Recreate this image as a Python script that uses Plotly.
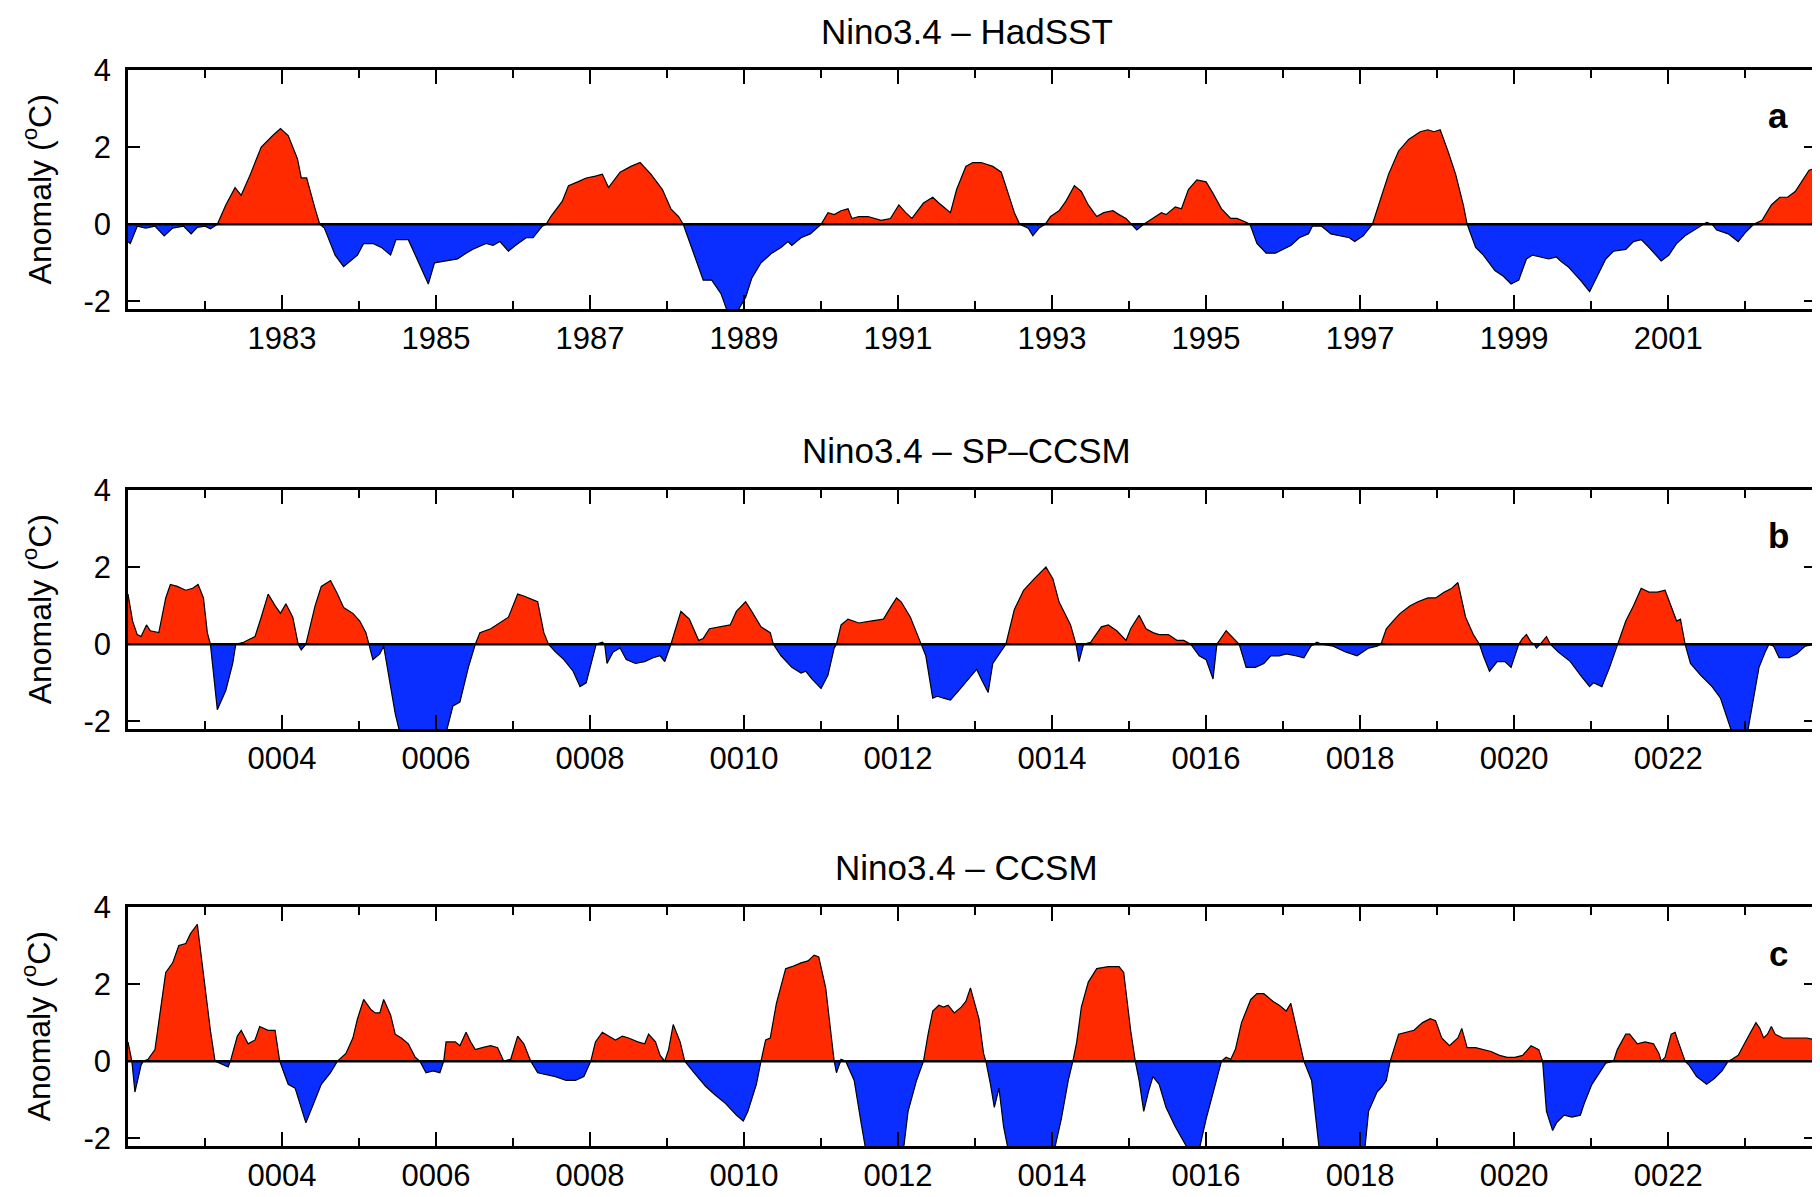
import plotly.graph_objects as go
from plotly.subplots import make_subplots

# Nino3.4 anomalies (degC)
years_a = [1981.00, 1981.03, 1981.12, 1981.23, 1981.35, 1981.47, 1981.58, 1981.72, 1981.82, 1981.90,
           1982.00, 1982.07, 1982.16, 1982.27, 1982.39, 1982.47, 1982.59, 1982.73, 1982.88, 1982.98,
           1983.08, 1983.20, 1983.25, 1983.32, 1983.43, 1983.49, 1983.55, 1983.69, 1983.80, 1983.98,
           1984.06, 1984.18, 1984.29, 1984.41, 1984.48, 1984.64, 1984.73, 1984.82, 1984.90, 1984.98,
           1985.13, 1985.28, 1985.39, 1985.48, 1985.65, 1985.74, 1985.83, 1985.94, 1986.03, 1986.17,
           1986.26, 1986.38, 1986.43, 1986.49, 1986.64, 1986.72, 1986.84, 1986.95, 1987.07, 1987.16,
           1987.24, 1987.39, 1987.53, 1987.65, 1987.79, 1987.94, 1988.05, 1988.15, 1988.21, 1988.35,
           1988.47, 1988.58, 1988.70, 1988.79, 1988.90, 1989.02, 1989.10, 1989.22, 1989.36, 1989.48,
           1989.57, 1989.62, 1989.74, 1989.86, 1990.00, 1990.09, 1990.17, 1990.26, 1990.35, 1990.40,
           1990.49, 1990.61, 1990.78, 1990.90, 1991.01, 1991.10, 1991.18, 1991.33, 1991.45, 1991.53,
           1991.68, 1991.76, 1991.88, 1991.97, 1992.08, 1992.23, 1992.34, 1992.43, 1992.51, 1992.58,
           1992.69, 1992.75, 1992.83, 1992.91, 1992.98, 1993.09, 1993.18, 1993.29, 1993.38, 1993.47,
           1993.58, 1993.67, 1993.79, 1993.87, 1993.96, 1994.03, 1994.10, 1994.19, 1994.31, 1994.42,
           1994.48, 1994.60, 1994.68, 1994.77, 1994.88, 1995.00, 1995.09, 1995.20, 1995.32, 1995.40,
           1995.52, 1995.57, 1995.66, 1995.78, 1995.90, 1996.01, 1996.10, 1996.21, 1996.33, 1996.38,
           1996.50, 1996.62, 1996.86, 1996.93, 1997.04, 1997.16, 1997.27, 1997.37, 1997.50, 1997.63,
           1997.78, 1997.88, 1997.96, 1998.04, 1998.14, 1998.24, 1998.34, 1998.39, 1998.50, 1998.60,
           1998.75, 1998.86, 1998.96, 1999.06, 1999.16, 1999.24, 1999.34, 1999.45, 1999.55, 1999.60,
           1999.70, 1999.86, 1999.98, 2000.09, 2000.19, 2000.29, 2000.45, 2000.55, 2000.65, 2000.75,
           2000.91, 2001.01, 2001.11, 2001.22, 2001.37, 2001.45, 2001.50, 2001.57, 2001.63, 2001.78,
           2001.91, 2002.01, 2002.11, 2002.22, 2002.34, 2002.45, 2002.55, 2002.65, 2002.75, 2002.83,
           2002.92]
anom_a = [-0.45, -0.5, -0.05, -0.1, -0.05, -0.3, -0.1, -0.05, -0.25, -0.08,
          -0.05, -0.12, 0.0, 0.5, 0.95, 0.75, 1.3, 2.0, 2.3, 2.48,
          2.3, 1.7, 1.2, 1.2, 0.4, 0.0, -0.1, -0.8, -1.1, -0.8,
          -0.5, -0.5, -0.6, -0.8, -0.4, -0.4, -0.8, -1.2, -1.55, -1.0,
          -0.95, -0.9, -0.75, -0.65, -0.5, -0.55, -0.45, -0.7, -0.55, -0.35,
          -0.35, -0.05, 0.0, 0.2, 0.6, 1.0, 1.1, 1.2, 1.25, 1.3,
          0.95, 1.35, 1.5, 1.6, 1.3, 0.9, 0.4, 0.2, 0.0, -0.8,
          -1.45, -1.45, -1.8, -2.3, -2.3, -1.9, -1.4, -1.0, -0.75, -0.6,
          -0.45, -0.55, -0.35, -0.25, 0.0, 0.3, 0.25, 0.35, 0.4, 0.15,
          0.2, 0.2, 0.1, 0.15, 0.5, 0.3, 0.15, 0.55, 0.7, 0.55,
          0.3, 0.9, 1.5, 1.6, 1.6, 1.5, 1.35, 0.8, 0.3, 0.0,
          -0.1, -0.3, -0.1, 0.0, 0.2, 0.35, 0.6, 1.0, 0.85, 0.5,
          0.2, 0.3, 0.35, 0.25, 0.15, 0.0, -0.15, 0.0, 0.15, 0.3,
          0.25, 0.45, 0.4, 0.9, 1.15, 1.1, 0.8, 0.4, 0.15, 0.15,
          0.05, 0.0, -0.5, -0.75, -0.75, -0.65, -0.55, -0.35, -0.25, -0.05,
          -0.05, -0.25, -0.35, -0.45, -0.3, 0.0, 0.7, 1.3, 1.9, 2.2,
          2.4, 2.45, 2.4, 2.45, 1.9, 1.3, 0.5, 0.0, -0.6, -0.8,
          -1.2, -1.35, -1.55, -1.45, -0.9, -0.8, -0.85, -0.9, -0.85, -0.95,
          -1.1, -1.45, -1.75, -1.3, -0.9, -0.7, -0.65, -0.45, -0.4, -0.6,
          -0.95, -0.8, -0.5, -0.3, -0.1, 0.0, 0.05, 0.0, -0.15, -0.25,
          -0.45, -0.2, 0.0, 0.1, 0.5, 0.7, 0.7, 0.85, 1.15, 1.4,
          1.45]

years_b = [2.00, 2.06, 2.12, 2.17, 2.24, 2.29, 2.40, 2.49, 2.55, 2.64,
           2.75, 2.84, 2.91, 2.98, 3.03, 3.07, 3.16, 3.27, 3.36, 3.40,
           3.50, 3.65, 3.73, 3.82, 3.91, 3.98, 4.05, 4.14, 4.21, 4.25,
           4.31, 4.43, 4.51, 4.63, 4.72, 4.80, 4.92, 5.01, 5.09, 5.13,
           5.18, 5.27, 5.32, 5.47, 5.53, 6.13, 6.22, 6.31, 6.42, 6.51,
           6.57, 6.71, 6.86, 6.94, 7.06, 7.14, 7.26, 7.32, 7.40, 7.46,
           7.55, 7.66, 7.78, 7.87, 7.95, 8.04, 8.08, 8.16, 8.19, 8.22,
           8.30, 8.39, 8.47, 8.59, 8.71, 8.82, 8.91, 8.97, 9.05, 9.18,
           9.29, 9.41, 9.47, 9.55, 9.70, 9.82, 9.90, 10.02, 10.10, 10.22,
           10.34, 10.38, 10.48, 10.62, 10.74, 10.80, 10.88, 11.00, 11.09, 11.17,
           11.20, 11.26, 11.35, 11.49, 11.64, 11.81, 11.90, 11.98, 12.04, 12.16,
           12.24, 12.30, 12.36, 12.45, 12.51, 12.59, 12.68, 12.79, 12.91, 13.02,
           13.08, 13.17, 13.23, 13.31, 13.40, 13.51, 13.63, 13.77, 13.92, 14.01,
           14.09, 14.24, 14.31, 14.35, 14.41, 14.50, 14.55, 14.64, 14.73, 14.84,
           14.96, 15.02, 15.13, 15.22, 15.31, 15.39, 15.51, 15.62, 15.71, 15.80,
           15.91, 16.00, 16.09, 16.14, 16.26, 16.38, 16.43, 16.52, 16.64, 16.75,
           16.84, 16.95, 17.04, 17.16, 17.27, 17.36, 17.44, 17.50, 17.65, 17.81,
           17.96, 18.11, 18.22, 18.27, 18.34, 18.45, 18.52, 18.65, 18.75, 18.88,
           18.98, 19.09, 19.19, 19.27, 19.37, 19.47, 19.55, 19.60, 19.68, 19.78,
           19.88, 19.96, 20.04, 20.06, 20.11, 20.16, 20.22, 20.26, 20.29, 20.34,
           20.42, 20.47, 20.57, 20.73, 20.86, 20.98, 21.03, 21.14, 21.24, 21.34,
           21.45, 21.55, 21.65, 21.75, 21.86, 21.96, 22.06, 22.11, 22.16, 22.22,
           22.29, 22.42, 22.57, 22.68, 22.78, 22.83, 23.03, 23.11, 23.18, 23.26,
           23.31, 23.37, 23.44, 23.57, 23.67, 23.78, 23.92]
anom_b = [1.3, 0.6, 0.25, 0.2, 0.5, 0.35, 0.3, 1.2, 1.55, 1.5,
          1.4, 1.45, 1.55, 1.2, 0.3, 0.0, -1.7, -1.2, -0.5, 0.0,
          0.05, 0.2, 0.7, 1.3, 1.0, 0.8, 1.05, 0.7, 0.0, -0.15,
          0.0, 1.0, 1.5, 1.65, 1.3, 0.95, 0.8, 0.6, 0.3, 0.0,
          -0.4, -0.25, -0.05, -1.8, -2.3, -2.3, -1.6, -1.5, -0.6, 0.0,
          0.3, 0.4, 0.6, 0.7, 1.3, 1.25, 1.15, 1.1, 0.3, 0.0,
          -0.2, -0.4, -0.7, -1.1, -1.0, -0.3, 0.0, 0.05, 0.0, -0.5,
          -0.2, -0.1, -0.4, -0.5, -0.45, -0.35, -0.3, -0.45, 0.0, 0.85,
          0.65, 0.1, 0.15, 0.4, 0.45, 0.5, 0.85, 1.1, 0.85, 0.45,
          0.3, 0.0, -0.3, -0.6, -0.75, -0.7, -0.9, -1.15, -0.8, -0.1,
          0.0, 0.5, 0.65, 0.55, 0.6, 0.65, 0.95, 1.2, 1.1, 0.7,
          0.3, 0.0, -0.3, -1.4, -1.35, -1.4, -1.45, -1.2, -0.9, -0.65,
          -0.9, -1.25, -0.5, -0.25, 0.0, 0.9, 1.4, 1.7, 2.0, 1.7,
          1.1, 0.5, 0.0, -0.45, 0.0, 0.05, 0.2, 0.45, 0.5, 0.35,
          0.1, 0.4, 0.75, 0.4, 0.3, 0.25, 0.25, 0.1, 0.1, 0.0,
          -0.3, -0.4, -0.9, 0.0, 0.35, 0.1, 0.0, -0.6, -0.6, -0.5,
          -0.3, -0.3, -0.25, -0.3, -0.35, -0.05, 0.05, 0.0, -0.05, -0.2,
          -0.3, -0.1, -0.05, 0.0, 0.4, 0.65, 0.8, 1.0, 1.1, 1.2,
          1.2, 1.35, 1.45, 1.6, 0.7, 0.25, 0.0, -0.3, -0.7, -0.45,
          -0.45, -0.6, -0.1, 0.0, 0.15, 0.25, 0.05, 0.0, -0.1, 0.0,
          0.2, 0.0, -0.2, -0.45, -0.8, -1.1, -1.0, -1.1, -0.6, 0.0,
          0.6, 1.0, 1.45, 1.35, 1.35, 1.4, 0.9, 0.6, 0.65, 0.0,
          -0.5, -0.8, -1.1, -1.4, -2.0, -2.3, -2.3, -1.4, -0.6, -0.2,
          0.0, -0.05, -0.35, -0.35, -0.25, -0.05, 0.0]

years_c = [2.00, 2.05, 2.09, 2.17, 2.20, 2.26, 2.35, 2.43, 2.49, 2.58,
           2.66, 2.75, 2.81, 2.90, 2.98, 3.07, 3.13, 3.30, 3.33, 3.42,
           3.47, 3.56, 3.65, 3.71, 3.82, 3.91, 3.97, 4.02, 4.08, 4.17,
           4.31, 4.43, 4.51, 4.63, 4.72, 4.83, 4.92, 4.98, 5.06, 5.15,
           5.21, 5.27, 5.32, 5.41, 5.47, 5.55, 5.64, 5.73, 5.79, 5.87,
           5.96, 6.05, 6.10, 6.13, 6.25, 6.31, 6.39, 6.45, 6.51, 6.60,
           6.71, 6.80, 6.88, 6.97, 7.06, 7.14, 7.23, 7.32, 7.43, 7.55,
           7.69, 7.81, 7.92, 8.01, 8.07, 8.16, 8.24, 8.33, 8.42, 8.50,
           8.62, 8.71, 8.76, 8.85, 8.91, 8.97, 9.02, 9.08, 9.17, 9.23,
           9.35, 9.50, 9.61, 9.76, 9.90, 9.99, 10.05, 10.16, 10.22, 10.28,
           10.34, 10.42, 10.54, 10.62, 10.74, 10.83, 10.91, 10.97, 11.06, 11.12,
           11.17, 11.20, 11.26, 11.32, 11.43, 11.52, 11.58, 12.07, 12.13, 12.24,
           12.33, 12.39, 12.45, 12.53, 12.59, 12.65, 12.73, 12.82, 12.88, 12.94,
           13.05, 13.11, 13.14, 13.20, 13.25, 13.31, 13.37, 13.43, 14.03, 14.12,
           14.21, 14.27, 14.32, 14.38, 14.47, 14.58, 14.73, 14.87, 14.93, 15.02,
           15.08, 15.13, 15.19, 15.25, 15.31, 15.39, 15.48, 15.60, 15.71, 15.77,
           15.91, 16.00, 16.12, 16.20, 16.26, 16.32, 16.38, 16.46, 16.58, 16.66,
           16.75, 16.87, 16.95, 17.04, 17.10, 17.18, 17.24, 17.27, 17.37, 17.47,
           18.06, 18.11, 18.22, 18.29, 18.34, 18.39, 18.50, 18.60, 18.70, 18.81,
           18.91, 18.98, 19.06, 19.16, 19.27, 19.32, 19.39, 19.50, 19.60, 19.70,
           19.81, 19.91, 20.01, 20.11, 20.22, 20.32, 20.37, 20.42, 20.50, 20.55,
           20.65, 20.75, 20.86, 20.91, 21.01, 21.11, 21.19, 21.29, 21.34, 21.45,
           21.50, 21.60, 21.70, 21.81, 21.88, 21.91, 21.96, 22.04, 22.09, 22.14,
           22.22, 22.27, 22.37, 22.50, 22.60, 22.70, 22.78, 22.83, 22.91, 23.03,
           23.14, 23.19, 23.24, 23.29, 23.34, 23.39, 23.49, 23.60, 23.70, 23.80,
           23.92]
anom_c = [0.5, 0.0, -0.8, -0.1, 0.0, 0.05, 0.3, 1.5, 2.3, 2.55,
          3.0, 3.05, 3.3, 3.55, 2.2, 0.8, 0.0, -0.15, 0.0, 0.65,
          0.8, 0.45, 0.55, 0.9, 0.8, 0.8, 0.0, -0.3, -0.6, -0.7,
          -1.6, -1.0, -0.6, -0.3, 0.0, 0.2, 0.6, 1.1, 1.6, 1.35,
          1.25, 1.25, 1.6, 1.2, 0.7, 0.6, 0.45, 0.1, 0.0, -0.3,
          -0.25, -0.3, 0.0, 0.5, 0.5, 0.4, 0.75, 0.5, 0.3, 0.35,
          0.4, 0.35, 0.0, 0.05, 0.65, 0.45, 0.0, -0.3, -0.35, -0.4,
          -0.5, -0.5, -0.4, 0.0, 0.5, 0.75, 0.65, 0.55, 0.65, 0.6,
          0.5, 0.45, 0.7, 0.5, 0.15, 0.0, 0.3, 0.95, 0.5, 0.0,
          -0.3, -0.65, -0.85, -1.1, -1.4, -1.55, -1.3, -0.6, 0.0, 0.55,
          0.6, 1.5, 2.4, 2.45, 2.55, 2.6, 2.75, 2.7, 1.9, 0.8,
          0.0, -0.3, 0.05, 0.0, -0.5, -1.6, -2.3, -2.3, -1.3, -0.5,
          0.0, 0.7, 1.3, 1.45, 1.4, 1.45, 1.25, 1.4, 1.55, 1.9,
          1.1, 0.2, 0.0, -0.6, -1.2, -0.7, -1.7, -2.3, -2.3, -1.5,
          -0.5, 0.0, 0.5, 1.4, 2.05, 2.4, 2.45, 2.45, 2.3, 0.8,
          0.0, -0.5, -1.3, -0.8, -0.4, -0.6, -1.2, -1.7, -2.1, -2.3,
          -2.3, -1.5, -0.6, 0.0, 0.1, 0.05, 0.3, 1.0, 1.6, 1.75,
          1.75, 1.55, 1.45, 1.3, 1.5, 0.8, 0.2, 0.0, -0.5, -2.3,
          -2.3, -1.3, -0.8, -0.65, -0.5, 0.0, 0.7, 0.75, 0.8, 1.0,
          1.1, 1.05, 0.6, 0.4, 0.6, 0.85, 0.35, 0.35, 0.3, 0.25,
          0.15, 0.1, 0.1, 0.15, 0.4, 0.3, 0.0, -1.3, -1.8, -1.6,
          -1.4, -1.45, -1.4, -1.1, -0.6, -0.3, -0.05, 0.0, 0.3, 0.7,
          0.7, 0.45, 0.5, 0.45, 0.2, 0.0, 0.1, 0.7, 0.75, 0.45,
          0.0, -0.1, -0.4, -0.6, -0.45, -0.25, 0.0, 0.05, 0.15, 0.6,
          1.0, 0.85, 0.6, 0.7, 0.9, 0.7, 0.6, 0.6, 0.6, 0.6,
          0.55]

titles = ["Nino3.4 – HadSST", "Nino3.4 – SP–CCSM", "Nino3.4 – CCSM"]
panel_labels = ["a", "b", "c"]
xticks_a = [1983, 1985, 1987, 1989, 1991, 1993, 1995, 1997, 1999, 2001]
xticktext_a = ["1983", "1985", "1987", "1989", "1991", "1993", "1995", "1997", "1999", "2001"]
xticks_model = [4, 6, 8, 10, 12, 14, 16, 18, 20, 22]
xticktext_model = ["0004", "0006", "0008", "0010", "0012", "0014", "0016", "0018", "0020", "0022"]
yticks = [-2, 0, 2, 4]
yticktext = ["-2", "0", "2", "4"]

RED = "#ff2a00"
BLUE = "#0a2eff"
FONT = "Liberation Sans, Arial, Helvetica, sans-serif"

series = [(years_a, anom_a), (years_b, anom_b), (years_c, anom_c)]
xranges = [[1981.0, 2002.92], [2.0, 23.92], [2.0, 23.92]]
xtickinfo = [(xticks_a, xticktext_a), (xticks_model, xticktext_model), (xticks_model, xticktext_model)]
ydomains = [[0.7778, 1.0], [0.3875, 0.6097], [0.0, 0.2222]]

fig = make_subplots(rows=3, cols=1)

for i, (t, v) in enumerate(series, start=1):
    pos = [max(x, 0.0) for x in v]
    neg = [min(x, 0.0) for x in v]
    fig.add_trace(go.Scatter(x=t, y=pos, mode="lines", fill="tozeroy", fillcolor=RED,
                             line=dict(width=0, color=RED), hoverinfo="skip"), row=i, col=1)
    fig.add_trace(go.Scatter(x=t, y=neg, mode="lines", fill="tozeroy", fillcolor=BLUE,
                             line=dict(width=0, color=BLUE), hoverinfo="skip"), row=i, col=1)
    # contorno nero della serie
    fig.add_trace(go.Scatter(x=t, y=v, mode="lines",
                             line=dict(color="black", width=1.2)), row=i, col=1)
    fig.add_hline(y=0, line_color="black", line_width=2.5, row=i, col=1)

    tv, tt = xtickinfo[i - 1]
    fig.update_xaxes(
        range=xranges[i - 1], tickmode="array", tickvals=tv, ticktext=tt,
        showline=True, linecolor="black", linewidth=2.5, mirror="allticks",
        ticks="inside", ticklen=14, tickwidth=2, tickcolor="black",
        minor=dict(ticks="inside", ticklen=8, tickwidth=2, tickcolor="black", dtick=1, tick0=0),
        showgrid=False, zeroline=False, ticklabelstandoff=0,
        tickfont=dict(family=FONT, size=31, color="black"),
        row=i, col=1,
    )
    fig.update_yaxes(
        range=[-2.2, 4], tickmode="array", tickvals=yticks, ticktext=yticktext,
        showline=True, linecolor="black", linewidth=2.5, mirror="allticks",
        ticks="inside", ticklen=12, tickwidth=2, tickcolor="black",
        showgrid=False, zeroline=False, domain=ydomains[i - 1],
        ticklabelstandoff=8, automargin=False,
        tickfont=dict(family=FONT, size=31, color="black"),
        row=i, col=1,
    )

title_y = [1.036, 0.6464, 0.2585]
label_y = [0.9578, 0.5675, 0.1791]
for k in range(3):
    d0, d1 = ydomains[k]
    fig.add_annotation(text=titles[k], xref="paper", yref="paper", x=0.497, y=title_y[k],
                       showarrow=False, xanchor="center", yanchor="middle",
                       font=dict(family=FONT, size=35, color="black"))
    fig.add_annotation(text="<b>%s</b>" % panel_labels[k], xref="paper", yref="paper",
                       x=0.9775, y=label_y[k], showarrow=False,
                       xanchor="center", yanchor="middle",
                       font=dict(family=FONT, size=35, color="black"))
    fig.add_annotation(text="Anomaly (<sup>o</sup>C)", xref="paper", yref="paper",
                       x=-0.054, y=(d0 + d1) / 2, textangle=-90, showarrow=False,
                       xanchor="center", yanchor="middle",
                       font=dict(family=FONT, size=32, color="black"))

fig.update_layout(
    width=1820, height=1197,
    margin=dict(l=120, r=12, t=62, b=46),
    plot_bgcolor="white", paper_bgcolor="white",
    showlegend=False, hovermode=False,
)

fig.write_html("out.html")
